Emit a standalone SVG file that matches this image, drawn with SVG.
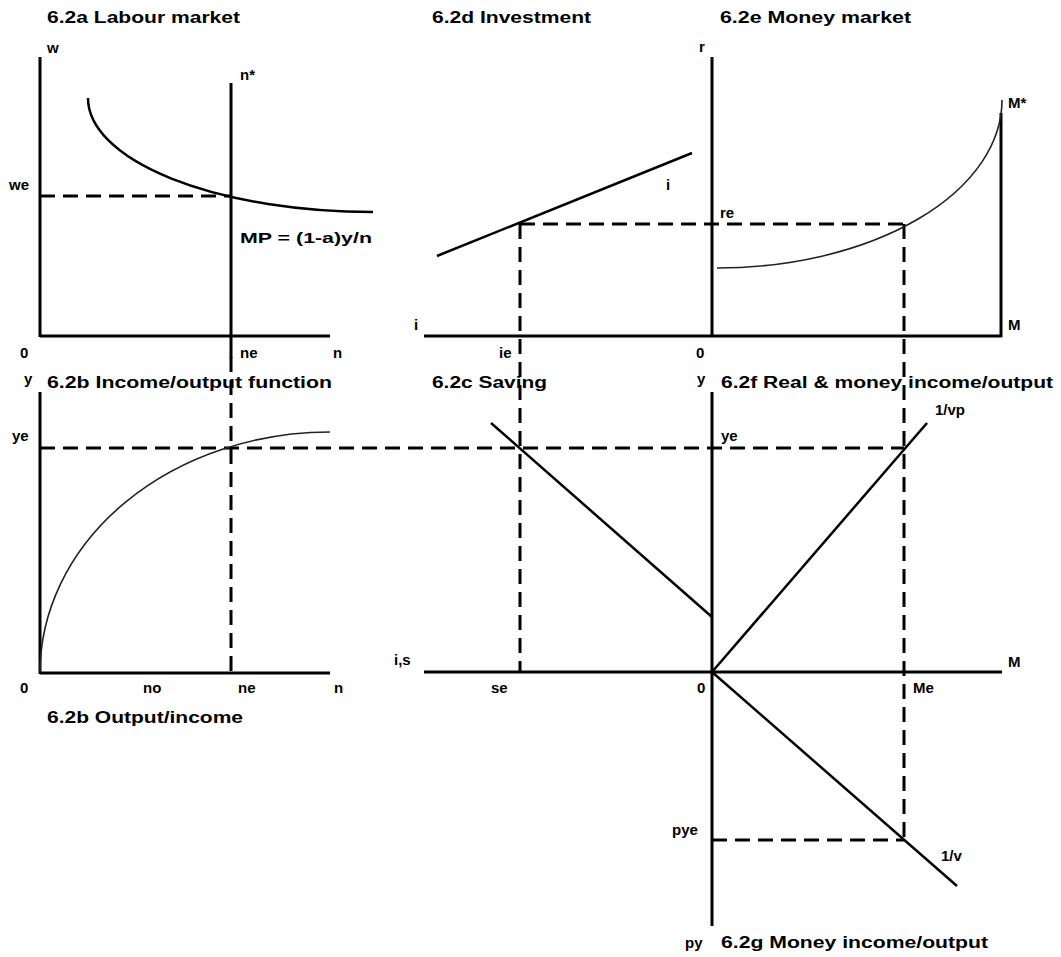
<svg xmlns="http://www.w3.org/2000/svg" width="1061" height="957" viewBox="0 0 1061 957">
<style>
.ax{stroke:#000;stroke-width:3;fill:none;stroke-linecap:butt}
.cv{stroke:#000;stroke-width:2.5;fill:none}
.thin{stroke:#222;stroke-width:1.6;fill:none}
.ds{stroke:#000;stroke-width:3;fill:none;stroke-dasharray:15 8}
text{font-family:"Liberation Sans",Arial,sans-serif;font-weight:bold;font-size:15px;fill:#000}
.t{font-size:16px}
</style>
<rect width="1061" height="957" fill="#fff"/>
<g id="connectors">
<line class="ds" x1="40" y1="196" x2="231" y2="196"/>
<line class="ds" x1="520" y1="224" x2="904" y2="224"/>
<line class="ds" x1="520" y1="224" x2="520" y2="672"/>
<line class="ds" x1="231" y1="357" x2="231" y2="673"/>
<line class="ds" x1="40" y1="448" x2="904" y2="448"/>
<line class="ds" x1="904" y1="224" x2="904" y2="840"/>
<line class="ds" x1="712" y1="840" x2="904" y2="840"/>
</g>
<g id="panel-a">
<text class="t" x="47" y="23" textLength="193" lengthAdjust="spacingAndGlyphs">6.2a Labour market</text>
<line class="ax" x1="40" y1="57" x2="40" y2="337"/>
<line class="ax" x1="40" y1="336" x2="330" y2="336"/>
<line class="ax" x1="231" y1="83" x2="231" y2="358"/>
<path class="cv" d="M88,98 A285,114 0 0 0 373,212"/>
<text x="47" y="53">w</text>
<text x="240" y="80">n*</text>
<text x="9" y="190">we</text>
<text x="240" y="243" textLength="132" lengthAdjust="spacingAndGlyphs">MP = (1-a)y/n</text>
<text x="20" y="358">0</text>
<text x="240" y="358">ne</text>
<text x="333" y="358">n</text>
</g>
<g id="panel-d">
<text class="t" x="432" y="23" textLength="159" lengthAdjust="spacingAndGlyphs">6.2d Investment</text>
<line class="ax" x1="424" y1="336" x2="712" y2="336"/>
<line class="ax" x1="712" y1="57" x2="712" y2="337"/>
<line class="cv" x1="437" y1="256" x2="692" y2="153"/>
<text x="699" y="52">r</text>
<text x="666" y="190">i</text>
<text x="414" y="330">i</text>
<text x="499" y="358">ie</text>
<text x="696" y="358">0</text>
</g>
<g id="panel-e">
<text class="t" x="720" y="23" textLength="191" lengthAdjust="spacingAndGlyphs">6.2e Money market</text>
<line class="ax" x1="712" y1="336" x2="1002" y2="336"/>
<line class="ax" x1="1001" y1="113" x2="1001" y2="337"/>
<path class="thin" d="M717,268 A285,168 0 0 0 1002,100"/>
<text x="720" y="218">re</text>
<text x="1008" y="108">M*</text>
<text x="1008" y="330">M</text>
</g>
<g id="panel-b">
<text class="t" x="47" y="388" textLength="285" lengthAdjust="spacingAndGlyphs">6.2b Income/output function</text>
<line class="ax" x1="40" y1="392" x2="40" y2="674"/>
<line class="ax" x1="40" y1="673" x2="330" y2="673"/>
<path class="thin" d="M40,673 A290,241 0 0 1 330,432"/>
<text x="24" y="384">y</text>
<text x="12" y="441">ye</text>
<text x="20" y="693">0</text>
<text x="143" y="693">no</text>
<text x="238" y="693">ne</text>
<text x="334" y="693">n</text>
<text class="t" x="47" y="723" textLength="196" lengthAdjust="spacingAndGlyphs">6.2b Output/income</text>
</g>
<g id="panel-c">
<text class="t" x="432" y="388" textLength="115" lengthAdjust="spacingAndGlyphs">6.2c Saving</text>
<line class="cv" x1="491" y1="423" x2="712" y2="617"/>
<line class="ax" x1="424" y1="672" x2="1002" y2="672"/>
<text x="394" y="665">i,s</text>
<text x="491" y="693">se</text>
<text x="697" y="693">0</text>
</g>
<g id="panel-f">
<text class="t" x="721" y="388" textLength="332" lengthAdjust="spacingAndGlyphs">6.2f Real &amp; money income/output</text>
<line class="ax" x1="712" y1="392" x2="712" y2="926"/>
<line class="cv" x1="712" y1="672" x2="927" y2="423"/>
<text x="697" y="384">y</text>
<text x="721" y="441">ye</text>
<text x="935" y="415">1/vp</text>
<text x="1008" y="667">M</text>
<text x="913" y="693">Me</text>
</g>
<g id="panel-g">
<line class="cv" x1="712" y1="672" x2="957" y2="886"/>
<text x="672" y="835">pye</text>
<text x="941" y="861">1/v</text>
<text x="685" y="948">py</text>
<text class="t" x="721" y="948" textLength="267" lengthAdjust="spacingAndGlyphs">6.2g Money income/output</text>
</g>
</svg>
